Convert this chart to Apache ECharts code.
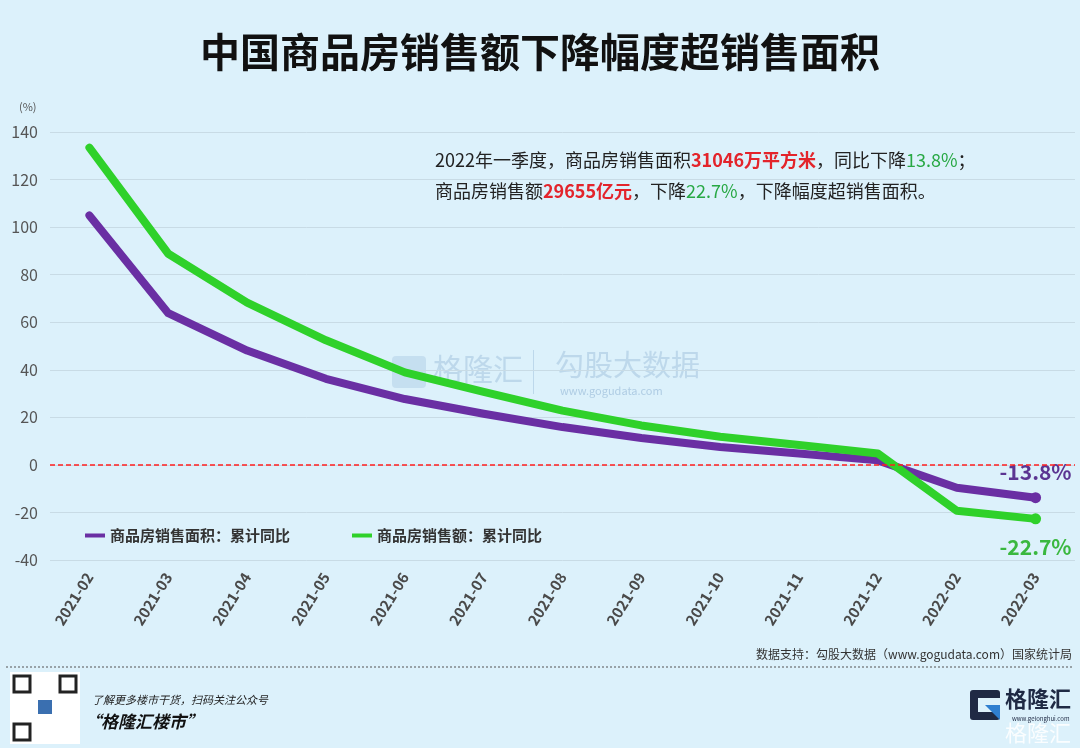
<!DOCTYPE html>
<html>
<head>
<meta charset="utf-8">
<script src="https://cdn.jsdelivr.net/npm/echarts@6/dist/echarts.min.js"></script>
<style>
  html, body { margin: 0; padding: 0; background: #dcf1fb; }
  #main { width: 1080px; height: 748px; }
</style>
</head>
<body>
<div id="main"></div>
<script>
// 月份
var months = ['2021-02', '2021-03', '2021-04', '2021-05', '2021-06', '2021-07', '2021-08',
  '2021-09', '2021-10', '2021-11', '2021-12', '2022-02', '2022-03'];
// 商品房销售面积：累计同比 (%)
var areaYoy = [104.9, 63.8, 48.1, 36.2, 27.7, 21.5, 15.9, 11.3, 7.5, 4.8, 1.9, -9.6, -13.8];
// 商品房销售额：累计同比 (%)
var salesYoy = [133.4, 88.8, 68.2, 52.4, 38.9, 30.7, 22.8, 16.6, 11.8, 8.4, 4.8, -19.3, -22.7];
var yTicks = [-40, -20, 0, 20, 40, 60, 80, 100, 120, 140];

var purple = '#6a2fa3';
var green = '#2fd12a';
var cjk = '"Noto Sans CJK SC", "Noto Sans", sans-serif';

// only the last point gets a dot and a label
function withEnd(arr, color, labelColor, pos) {
  return arr.map(function(v, i) {
    if (i < arr.length - 1) return v;
    return {
      value: v,
      symbol: 'circle',
      symbolSize: 11,
      itemStyle: { color: color },
      label: {
        show: true,
        position: pos,
        distance: pos == 'top' ? 10 : 12,
        formatter: '{c}%',
        color: labelColor,
        fontSize: 21,
        fontWeight: 'bold',
        fontFamily: cjk
      }
    };
  });
}

var richText = {
  b: { fontSize: 18, fill: '#222', fontFamily: cjk },
  r: { fontSize: 18, fill: '#e3242b', fontWeight: 'bold', fontFamily: cjk },
  g: { fontSize: 18, fill: '#27a844', fontFamily: cjk }
};

var chart = echarts.init(document.getElementById('main'));
chart.setOption({
  animation: false,
  backgroundColor: '#dcf1fb',
  title: {
    text: '中国商品房销售额下降幅度超销售面积',
    left: 'center',
    top: 27,
    textStyle: { fontSize: 40, fontWeight: 'bold', color: '#111', fontFamily: cjk }
  },
  legend: {
    left: 80,
    top: 523,
    itemWidth: 20,
    itemHeight: 4,
    itemGap: 62,
    icon: 'rect',
    textStyle: { fontSize: 15, color: '#333', fontWeight: 'bold', fontFamily: cjk },
    data: ['商品房销售面积：累计同比', '商品房销售额：累计同比']
  },
  grid: { left: 50, right: 5, top: 132, bottom: 188 },
  xAxis: {
    type: 'category',
    data: months,
    boundaryGap: true,
    axisLine: { show: false },
    axisTick: { show: false },
    axisLabel: {
      interval: 0,
      rotate: 58,
      margin: 14,
      fontSize: 15,
      fontWeight: 'bold',
      color: '#4a4a4a',
      fontFamily: cjk
    }
  },
  yAxis: {
    type: 'value',
    min: yTicks[0],
    max: yTicks[yTicks.length - 1],
    interval: 20,
    axisLine: { show: false },
    axisTick: { show: false },
    axisLabel: { fontSize: 16, color: '#555', margin: 12, fontFamily: cjk },
    splitLine: { lineStyle: { color: '#c8dbe5', width: 1 } }
  },
  series: [
    {
      name: '商品房销售面积：累计同比',
      type: 'line',
      data: withEnd(areaYoy, purple, '#5b3592', 'top'),
      symbol: 'none',
      lineStyle: { color: purple, width: 8, cap: 'round', join: 'round' },
      itemStyle: { color: purple },
      z: 3,
      markLine: {
        silent: true,
        symbol: ['none', 'none'],
        label: { show: false },
        emphasis: { disabled: true },
        lineStyle: { color: '#ff1f1f', type: [5, 3], width: 1.5, opacity: 1 },
        data: [{ yAxis: 0 }]
      }
    },
    {
      name: '商品房销售额：累计同比',
      type: 'line',
      data: withEnd(salesYoy, green, '#3ab83f', 'bottom'),
      symbol: 'none',
      lineStyle: { color: green, width: 8, cap: 'round', join: 'round' },
      itemStyle: { color: green },
      z: 4
    }
  ],
  graphic: [
    { type: 'text', left: 19, top: 101, style: { text: '(%)', fontSize: 11, fill: '#555', fontFamily: cjk } },
    {
      type: 'text', left: 435, top: 151,
      style: {
        text: '{b|2022年一季度，商品房销售面积}{r|31046万平方米}{b|，同比下降}{g|13.8%}{b|；}',
        fontFamily: cjk, rich: richText
      }
    },
    {
      type: 'text', left: 435, top: 182,
      style: {
        text: '{b|商品房销售额}{r|29655亿元}{b|，下降}{g|22.7%}{b|，下降幅度超销售面积。}',
        fontFamily: cjk, rich: richText
      }
    },
    // watermark
    { type: 'rect', left: 392, top: 356, shape: { width: 34, height: 32, r: 4 }, style: { fill: 'rgba(120,160,200,0.22)' }, z: 0 },
    { type: 'text', left: 433, top: 354, style: { text: '格隆汇', fontSize: 30, fill: 'rgba(120,160,200,0.3)', fontFamily: cjk }, z: 0 },
    { type: 'rect', left: 533, top: 350, shape: { width: 1, height: 44 }, style: { fill: 'rgba(120,160,200,0.3)' }, z: 0 },
    { type: 'text', left: 555, top: 350, style: { text: '勾股大数据', fontSize: 29, fill: 'rgba(120,160,200,0.3)', fontFamily: cjk }, z: 0 },
    { type: 'text', left: 560, top: 385, style: { text: 'www.gogudata.com', fontSize: 11, fill: 'rgba(120,160,200,0.45)', fontFamily: cjk }, z: 0 },
    // footer
    { type: 'text', right: 8, top: 648, style: { text: '数据支持：勾股大数据（www.gogudata.com）国家统计局', fontSize: 12, fill: '#333', fontFamily: cjk } },
    { type: 'line', shape: { x1: 6, y1: 667, x2: 1074, y2: 667 }, style: { stroke: '#555', lineWidth: 1, lineDash: [2, 2] } },
    { type: 'rect', shape: { x: 10, y: 672, width: 70, height: 72 }, style: { fill: '#fff' } },
    { type: 'rect', shape: { x: 14, y: 676, width: 16, height: 16 }, style: { fill: 'none', stroke: '#222', lineWidth: 3 } },
    { type: 'rect', shape: { x: 60, y: 676, width: 16, height: 16 }, style: { fill: 'none', stroke: '#222', lineWidth: 3 } },
    { type: 'rect', shape: { x: 14, y: 724, width: 16, height: 16 }, style: { fill: 'none', stroke: '#222', lineWidth: 3 } },
    { type: 'rect', shape: { x: 38, y: 700, width: 14, height: 14 }, style: { fill: '#3a6fb0' } },
    { type: 'text', left: 92, top: 694, style: { text: '了解更多楼市干货，扫码关注公众号', fontSize: 11, fontStyle: 'italic', fill: '#222', fontFamily: cjk } },
    { type: 'text', left: 84, top: 713, style: { text: '“格隆汇楼市”', fontSize: 17, fontStyle: 'italic', fontWeight: 'bold', fill: '#111', fontFamily: cjk } },
    { type: 'rect', shape: { x: 970, y: 690, width: 30, height: 30, r: 3 }, style: { fill: '#1f2a44' } },
    { type: 'rect', shape: { x: 978, y: 698, width: 22, height: 14 }, style: { fill: '#dcf1fb' } },
    { type: 'polygon', shape: { points: [[985, 705], [1000, 705], [1000, 720]] }, style: { fill: '#2f7fd0' } },
    { type: 'text', left: 1005, top: 688, style: { text: '格隆汇', fontSize: 22, fontWeight: 'bold', fill: '#1f2a44', fontFamily: cjk } },
    { type: 'text', left: 1012, top: 716, style: { text: 'www.gelonghui.com', fontSize: 6, fill: '#1f2a44', fontFamily: cjk } },
    { type: 'text', left: 1005, top: 722, style: { text: '格隆汇', fontSize: 22, fill: 'rgba(255,255,255,0.85)', fontFamily: cjk } }
  ]
});
</script>
</body>
</html>
